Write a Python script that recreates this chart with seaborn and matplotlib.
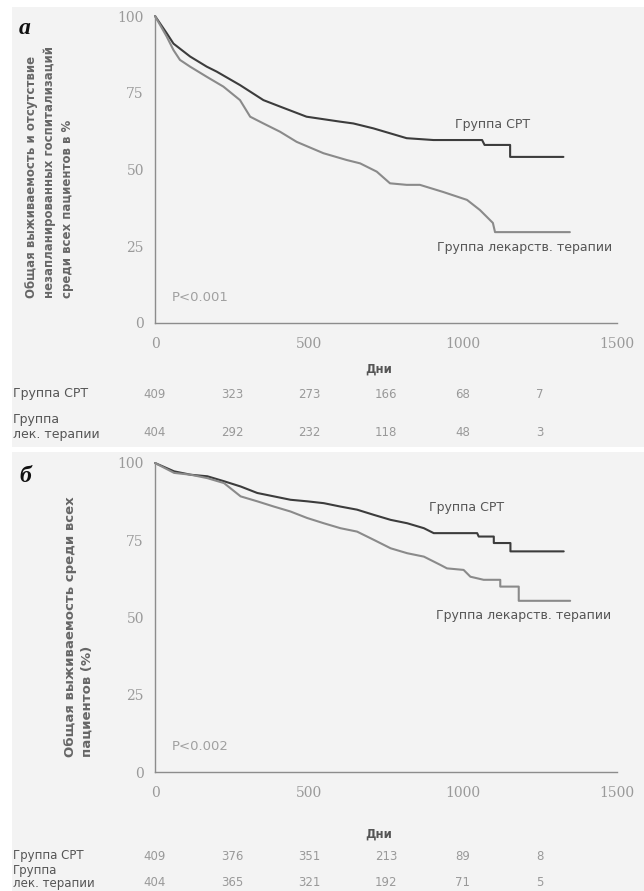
import pandas as pd
import seaborn as sns
import matplotlib.pyplot as plt
from matplotlib.patches import Rectangle
from matplotlib.ticker import MultipleLocator
from matplotlib import transforms

# --- data (days, % surviving) ---
groups = ["Группа СРТ", "Группа лекарств. терапии"]

a_cpt_days = [0, 38, 60, 114, 168, 200, 276, 352, 406, 492, 600, 644, 709, 763, 817, 904,
              1062, 1070, 1153, 1153, 1326]
a_cpt_surv = [100, 94.4, 91, 86.8, 83.5, 81.9, 77.5, 72.6, 70.5, 67.2, 65.6, 65, 63.4, 61.8, 60.2, 59.6,
              59.6, 58.0, 58.0, 54.1, 54.1]
a_drug_days = [0, 38, 60, 81, 114, 168, 222, 276, 309, 352, 406, 460, 547, 622, 666, 720, 763, 817,
               860, 935, 1013, 1055, 1078, 1097, 1104, 1347]
a_drug_surv = [100, 93.3, 88.9, 85.7, 83.5, 80.2, 77, 72.6, 67.2, 65, 62.3, 59, 55.3, 53.1, 52, 49.3, 45.5, 45,
               45, 42.7, 40.1, 36.8, 34.5, 32.6, 29.6, 29.6]

b_cpt_days = [0, 62, 116, 170, 224, 278, 332, 386, 440, 494, 548, 602, 656, 711, 765, 819, 873, 905,
              1046, 1051, 1100, 1100, 1154, 1154, 1327]
b_cpt_surv = [100, 97.3, 96.2, 95.7, 94.1, 92.4, 90.3, 89.2, 88.1, 87.6, 87, 85.9, 84.9, 83.2, 81.6, 80.5, 78.9, 77.3,
              77.3, 76.2, 76.2, 74.1, 74.1, 71.4, 71.4]
b_drug_days = [0, 62, 116, 170, 224, 278, 332, 386, 440, 494, 548, 602, 656, 711, 765, 819, 873, 927, 948,
               1002, 1024, 1067, 1121, 1121, 1181, 1181, 1348]
b_drug_surv = [100, 96.8, 96.2, 95.1, 93.5, 89.2, 87.6, 85.9, 84.3, 82.2, 80.5, 78.9, 77.8, 75.1, 72.4, 70.8, 69.7, 67, 65.9,
               65.4, 63.2, 62.2, 62.2, 60, 60, 55.4, 55.4]

# number at risk
risk_days = [0, 250, 500, 750, 1000, 1250]
a_cpt_risk = [409, 323, 273, 166, 68, 7]
a_drug_risk = [404, 292, 232, 118, 48, 3]
b_cpt_risk = [409, 376, 351, 213, 89, 8]
b_drug_risk = [404, 365, 321, 192, 71, 5]

ylabel_a = "Общая выживаемость и отсутствие\nнезапланированных госпитализаций\nсреди всех пациентов в %"
ylabel_b = "Общая выживаемость среди всех\nпациентов (%)"

sns.set_theme(style="white")
plt.rcParams["font.family"] = ["DejaVu Sans"]

W, H = 644, 891
BG = "#f3f3f3"
AX_COL = "#8c8c8c"
palette = {groups[0]: "#3c3c3c", groups[1]: "#8a8a8a"}


def fx(px):
    return px / W


def fy(py):
    return 1 - py / H


fig = plt.figure(figsize=(W / 100, H / 100), dpi=100, facecolor="white")
fig.add_artist(Rectangle((fx(12), fy(447)), 1, fy(7) - fy(447), transform=fig.transFigure,
                         facecolor=BG, edgecolor="none", zorder=0))
fig.add_artist(Rectangle((fx(12), 0), 1, fy(452), transform=fig.transFigure,
                         facecolor=BG, edgecolor="none", zorder=0))


def km_panel(top, bottom, cpt, drug, pval, lab_cpt, lab_drug):
    ax = fig.add_axes([fx(155), fy(bottom), fx(617) - fx(155), fy(top) - fy(bottom)])
    ax.set_facecolor("none")
    df = pd.concat([
        pd.DataFrame({"day": cpt[0], "surv": cpt[1], "group": groups[0]}),
        pd.DataFrame({"day": drug[0], "surv": drug[1], "group": groups[1]}),
    ])
    sns.lineplot(data=df, x="day", y="surv", hue="group", palette=palette, estimator=None,
                 sort=False, legend=False, linewidth=1.5, ax=ax, clip_on=False)
    ax.set_xlim(0, 1500)
    ax.set_ylim(0, 100)
    ax.set_xlabel("")
    ax.set_ylabel("")
    ax.xaxis.set_major_locator(MultipleLocator(500))
    ax.xaxis.set_minor_locator(MultipleLocator(100))
    ax.yaxis.set_major_locator(MultipleLocator(25))
    ax.yaxis.set_minor_locator(MultipleLocator(5))
    for s in ["top", "right"]:
        ax.spines[s].set_visible(False)
    for s in ["left", "bottom"]:
        ax.spines[s].set_color(AX_COL)
        ax.spines[s].set_linewidth(1)
    ax.tick_params(which="both", direction="out", color=AX_COL, width=1,
                   labelcolor="#9a9a9a", labelsize=10)
    ax.tick_params(axis="y", which="major", length=7, pad=1)
    ax.tick_params(axis="y", which="minor", length=5)
    ax.tick_params(axis="x", which="both", length=6, pad=4)
    for t in ax.get_xticklabels() + ax.get_yticklabels():
        t.set_fontfamily("DejaVu Serif")
    ax.text(55, 8.3, pval, fontsize=9.5, color="#a0a0a0", va="center")
    ax.text(lab_cpt[0], lab_cpt[1], groups[0], fontsize=9, color="#555555", ha="center", va="center")
    ax.text(lab_drug[0], lab_drug[1], "Группа лекарств. терапии", fontsize=9, color="#555555",
            ha="center", va="center")
    return ax


ax_a = km_panel(16, 323, (a_cpt_days, a_cpt_surv), (a_drug_days, a_drug_surv), "P<0.001",
                (1095, 64.5), (1200, 24.5))
ax_b = km_panel(463, 772, (b_cpt_days, b_cpt_surv), (b_drug_days, b_drug_surv), "P<0.002",
                (1013, 85.5), (1196, 50.5))

# panel letters
fig.text(fx(19), fy(34), "а", fontsize=17, fontweight="bold", fontstyle="italic",
         family="Liberation Serif", color="#111111")
fig.text(fx(19), fy(482), "б", fontsize=17, fontweight="bold", fontstyle="italic",
         family="Liberation Serif", color="#111111")

# y labels
fig.text(fx(50), fy(298), ylabel_a, rotation=90, ha="center", va="bottom", multialignment="left",
         fontsize=8.5, fontweight="bold", color="#666666", linespacing=1.5)
fig.text(fx(79), fy(757), ylabel_b, rotation=90, ha="center", va="bottom", multialignment="left",
         fontsize=9.5, fontweight="bold", color="#666666", linespacing=1.35)


def risk_table(ax, y_days, y_row1, y_row2, y_lab2, cpt_risk, drug_risk, fs, ls):
    fig.text(fx(379), fy(y_days), "Дни", fontsize=8.5, fontweight="bold", color="#555555",
             ha="center", va="center")
    tr = transforms.blended_transform_factory(ax.transData, fig.transFigure)
    fig.text(fx(13), fy(y_row1), groups[0], fontsize=fs, color="#555555", va="center")
    fig.text(fx(13), fy(y_lab2), "Группа\nлек. терапии", fontsize=fs, color="#555555",
             va="center", linespacing=ls)
    for d, c, r in zip(risk_days, cpt_risk, drug_risk):
        ax.text(d, fy(y_row1), str(c), transform=tr, fontsize=8.5, color="#999999",
                ha="center", va="center")
        ax.text(d, fy(y_row2), str(r), transform=tr, fontsize=8.5, color="#999999",
                ha="center", va="center")


risk_table(ax_a, 369, 394, 433, 427, a_cpt_risk, a_drug_risk, 9, 1.15)
risk_table(ax_b, 834, 856, 882, 877, b_cpt_risk, b_drug_risk, 8.5, 1.0)

fig.savefig("out.png", dpi=100, facecolor="white")
